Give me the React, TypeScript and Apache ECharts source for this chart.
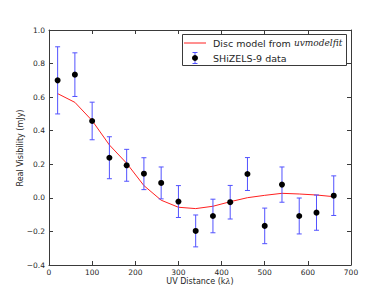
import React, { useEffect, useRef } from "react";
import * as echarts from "echarts";

const uvDist = [20, 60, 100, 140, 180, 220, 260, 300, 340, 380, 420, 460, 500, 540, 580, 620, 660];
const visReal = [0.70, 0.734, 0.458, 0.239, 0.194, 0.144, 0.089, -0.022, -0.197, -0.108, -0.026, 0.142, -0.167, 0.079, -0.108, -0.088, 0.013];
const visErr = [0.20, 0.13, 0.112, 0.125, 0.095, 0.095, 0.095, 0.095, 0.095, 0.10, 0.10, 0.098, 0.106, 0.105, 0.107, 0.105, 0.118];
const modelVis = [0.621, 0.569, 0.46, 0.315, 0.206, 0.073, -0.014, -0.056, -0.064, -0.05, -0.023, 0.001, 0.015, 0.027, 0.023, 0.017, 0.007];

const xTicks = { min: 0, max: 700, interval: 100 };
const yTicks = { min: -0.4, max: 1.0, interval: 0.2 };

const legendLabels = ["Disc model from ", "uvmodelfit", "SHiZELS-9 data"];
const xLabel = "UV Distance (k";
const yLabel = "Real Visibility (mJy)";

const FONT = "DejaVu Sans";
const TXT = "#262626";
const AX = "#3a3a3a";
const ERR = "#5252ff";

const fmtY = (v: number) => {
  if (Math.abs(v) < 1e-9) return "0.0";
  return v < 0 ? "\u2212" + Math.abs(v).toFixed(1) : v.toFixed(1);
};

export default function App() {
  const ref = useRef<HTMLDivElement>(null);
  useEffect(() => {
    if (!ref.current) return;
    const chart = echarts.init(ref.current, null, { renderer: "svg" });
    const errData = uvDist.map((x, i) => [x, visReal[i] - visErr[i], visReal[i] + visErr[i]]);
    const ptData = uvDist.map((x, i) => [x, visReal[i]]);
    const modelData = uvDist.map((x, i) => [x, modelVis[i]]);

    const baseAxisLine = { show: true, lineStyle: { color: AX, width: 1 } };
    const baseTick = { show: true, inside: true, length: 4, lineStyle: { color: AX, width: 1 } };

    chart.setOption({
      animation: false,
      backgroundColor: "#ffffff",
      grid: { left: 49, right: 39, top: 30, bottom: 30, containLabel: false },
      xAxis: [
        {
          type: "value",
          position: "bottom",
          ...xTicks,
          axisLine: { ...baseAxisLine, onZero: false },
          axisTick: baseTick,
          splitLine: { show: false },
          axisLabel: { color: TXT, fontFamily: FONT, fontSize: 7.5, margin: 3, formatter: (v: number) => String(Math.round(v)) },
        },
        {
          type: "value",
          position: "top",
          ...xTicks,
          axisLine: { ...baseAxisLine, onZero: false },
          axisTick: baseTick,
          splitLine: { show: false },
          axisLabel: { show: false },
        },
      ],
      yAxis: [
        {
          type: "value",
          position: "left",
          ...yTicks,
          axisLine: { ...baseAxisLine, onZero: false },
          axisTick: baseTick,
          splitLine: { show: false },
          axisLabel: { color: TXT, fontFamily: FONT, fontSize: 7.5, margin: 4, formatter: fmtY },
        },
        {
          type: "value",
          position: "right",
          ...yTicks,
          axisLine: { ...baseAxisLine, onZero: false },
          axisTick: baseTick,
          splitLine: { show: false },
          axisLabel: { show: false },
        },
      ],
      series: [
        {
          type: "line",
          data: modelData,
          xAxisIndex: 0,
          yAxisIndex: 0,
          showSymbol: false,
          symbol: "none",
          lineStyle: { color: "#ff2020", width: 1 },
          z: 2,
        },
        {
          type: "custom",
          data: errData,
          xAxisIndex: 0,
          yAxisIndex: 0,
          encode: { x: 0, y: [1, 2] },
          z: 3,
          renderItem: (params: any, api: any) => {
            const x = api.value(0);
            const lo = api.value(1);
            const hi = api.value(2);
            const p1 = api.coord([x, hi]);
            const p2 = api.coord([x, lo]);
            const st = { stroke: ERR, lineWidth: 1 };
            return {
              type: "group",
              children: [
                { type: "line", shape: { x1: p1[0], y1: p1[1], x2: p2[0], y2: p2[1] }, style: st },
                { type: "line", shape: { x1: p1[0] - 2.5, y1: p1[1], x2: p1[0] + 2.5, y2: p1[1] }, style: st },
                { type: "line", shape: { x1: p2[0] - 2.5, y1: p2[1], x2: p2[0] + 2.5, y2: p2[1] }, style: st },
              ],
            };
          },
        },
        {
          type: "scatter",
          data: ptData,
          xAxisIndex: 0,
          yAxisIndex: 0,
          symbol: "circle",
          symbolSize: 6,
          itemStyle: { color: "#000000", opacity: 1 },
          z: 4,
        },
      ],
      graphic: [
        {
          type: "text",
          x: 20,
          y: 148,
          rotation: Math.PI / 2,
          style: { text: yLabel, fill: TXT, font: `8px ${FONT}`, align: "center", verticalAlign: "middle" },
        },
        {
          type: "text",
          x: 200,
          y: 281,
          style: {
            text: `{a|${xLabel}}{b|\u03bb}{a|)}`,
            align: "center",
            verticalAlign: "middle",
            rich: {
              a: { fontFamily: FONT, fontSize: 8, fill: TXT, color: TXT },
              b: { fontFamily: "DejaVu Serif", fontStyle: "italic", fontSize: 8, fill: TXT, color: TXT },
            },
          },
        },
        {
          type: "rect",
          shape: { x: 182.5, y: 34.5, width: 164, height: 31 },
          style: { fill: "#ffffff", stroke: AX, lineWidth: 1 },
          z: 10,
        },
        {
          type: "line",
          shape: { x1: 184, y1: 43, x2: 206, y2: 43 },
          style: { stroke: "#ff2020", lineWidth: 1 },
          z: 11,
        },
        {
          type: "line",
          shape: { x1: 195, y1: 52.5, x2: 195, y2: 63.5 },
          style: { stroke: ERR, lineWidth: 1 },
          z: 11,
        },
        {
          type: "line",
          shape: { x1: 192.5, y1: 52.5, x2: 197.5, y2: 52.5 },
          style: { stroke: ERR, lineWidth: 1 },
          z: 11,
        },
        {
          type: "line",
          shape: { x1: 192.5, y1: 63.5, x2: 197.5, y2: 63.5 },
          style: { stroke: ERR, lineWidth: 1 },
          z: 11,
        },
        {
          type: "circle",
          shape: { cx: 195, cy: 58, r: 3 },
          style: { fill: "#000000" },
          z: 12,
        },
        {
          type: "text",
          x: 213,
          y: 43,
          z: 12,
          style: {
            text: `{a|${legendLabels[0]}}{b|${legendLabels[1]}}`,
            verticalAlign: "middle",
            rich: {
              a: { fontFamily: FONT, fontSize: 9.5, fill: TXT, color: TXT },
              b: { fontFamily: "DejaVu Serif", fontStyle: "italic", fontSize: 9, fill: TXT, color: TXT },
            },
          },
        },
        {
          type: "text",
          x: 213,
          y: 58,
          z: 12,
          style: { text: legendLabels[2], fill: TXT, font: `9.5px ${FONT}`, verticalAlign: "middle" },
        },
      ],
    });
    return () => chart.dispose();
  }, []);
  return <div ref={ref} style={{ position: "absolute", left: 0, top: 0, width: 390, height: 295 }} />;
}
